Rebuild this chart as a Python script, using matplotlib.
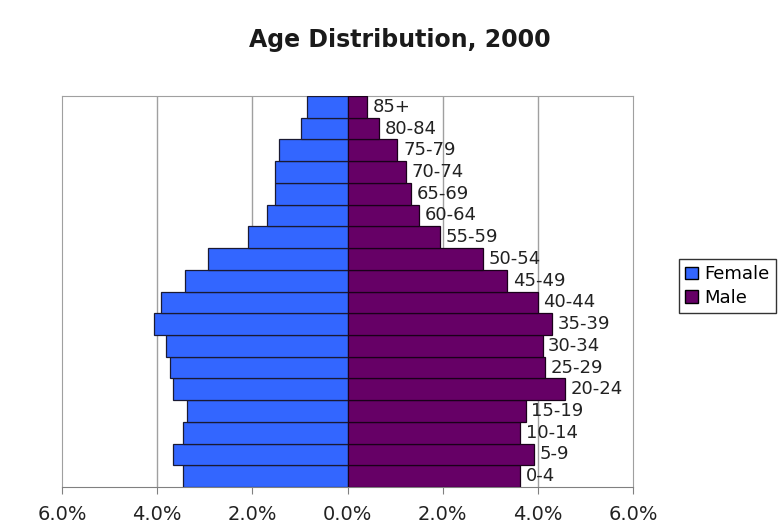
import matplotlib
matplotlib.use("Agg")
import matplotlib.pyplot as plt
from matplotlib.patches import Patch
import numpy as np

age_groups = ["0-4", "5-9", "10-14", "15-19", "20-24", "25-29", "30-34", "35-39",
              "40-44", "45-49", "50-54", "55-59", "60-64", "65-69", "70-74",
              "75-79", "80-84", "85+"]
female = [3.45, 3.66, 3.45, 3.37, 3.66, 3.72, 3.82, 4.07, 3.91, 3.42, 2.93,
          2.09, 1.70, 1.53, 1.53, 1.44, 0.97, 0.85]
male = [3.63, 3.91, 3.63, 3.75, 4.57, 4.15, 4.10, 4.29, 4.00, 3.36, 2.85,
        1.95, 1.51, 1.34, 1.22, 1.05, 0.67, 0.42]
xticks = [-6, -4, -2, 0, 2, 4, 6]
xtick_labels = ["6.0%", "4.0%", "2.0%", "0.0%", "2.0%", "4.0%", "6.0%"]

female_color = "#3366FF"
male_color = "#660066"

fig = plt.figure(figsize=(7.81, 5.29), dpi=100)
ax = fig.add_axes([0.0794, 0.0794, 0.7311, 0.7391])

y = np.arange(len(age_groups))
ax.barh(y, [-v for v in female], height=1.0, color=female_color,
        edgecolor="#1a1a33", linewidth=0.9, zorder=3)
ax.barh(y, male, height=1.0, color=male_color,
        edgecolor="#1a001a", linewidth=0.9, zorder=3)

for yi, m, lab in zip(y, male, age_groups):
    ax.annotate(lab, (m, yi), xytext=(4, 0), textcoords="offset points",
                va="center", ha="left", fontsize=13, color="#222222", zorder=4)

ax.set_xlim(-6, 6)
ax.set_ylim(-0.5, len(age_groups) - 0.5)
ax.set_xticks(xticks)
ax.set_xticklabels(xtick_labels, fontsize=14, color="#222222")
ax.set_yticks([])
for gx in [-4, -2, 2, 4]:
    ax.axvline(gx, color="#a0a0a0", linewidth=1.0, zorder=1)

for side in ["left", "right", "top"]:
    ax.spines[side].set_color("#a0a0a0")
ax.spines["bottom"].set_color("#808080")
ax.tick_params(axis="x", direction="out", length=5, color="#808080", pad=8)

fig.text(0.512, 1 - 47 / 529, "Age Distribution, 2000", ha="center",
         va="baseline", fontsize=17, fontweight="semibold", color="#1a1a1a")

handles = [Patch(facecolor=female_color, edgecolor="black", label="Female"),
           Patch(facecolor=male_color, edgecolor="black", label="Male")]
leg = fig.legend(handles=handles, loc="upper left",
                 bbox_to_anchor=(679 / 781, 1 - 259 / 529), fontsize=13,
                 frameon=True, fancybox=False, edgecolor="black",
                 handlelength=0.7, handleheight=0.7, handletextpad=0.35,
                 borderpad=0.35, labelspacing=0.3, borderaxespad=0)
leg.get_frame().set_linewidth(1.0)

fig.savefig("out.png", dpi=100)
